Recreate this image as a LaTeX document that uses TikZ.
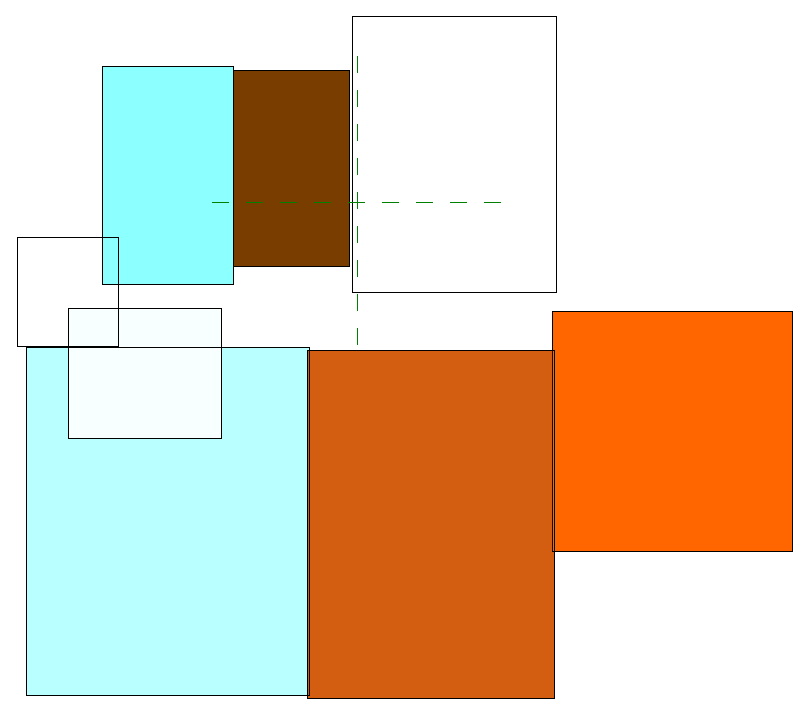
\documentclass[tikz,border=0pt]{standalone}
\usepackage{tikz}
\usetikzlibrary{arrows,shapes}
\definecolor{tilecyan}{RGB}{140,255,255}
\definecolor{tilebrown}{RGB}{122,61,0}
\definecolor{tilepale}{RGB}{186,255,255}
\definecolor{tileice}{RGB}{248,255,255}
\definecolor{tilerust}{RGB}{211,94,17}
\definecolor{tileorange}{RGB}{255,102,0}
\tikzstyle{tile}=[rectangle,draw=none,inner sep=0pt,outer sep=0pt]
\tikzstyle{outline} = [draw=black,line width=1pt]
\tikzstyle{guide} = [draw=green!50!black,line width=1pt,dash pattern=on 17pt off 17pt]

\begin{document}
\begin{tikzpicture}[x=1pt,y=-1pt]
    \useasboundingbox (0,0) rectangle (809,707);
    % First we fill the tiles, back to front
    \foreach \pos/\w/\h/\col/\name in {{(167.5,175)/131/218/tilecyan/cyan}, {(291,168)/116/196/tilebrown/brown},
        {(454,154)/204/276/none/sheet}, {(67.5,291.5)/101/109/none/small},
        {(167.5,521)/283/348/tilepale/pale}, {(144.5,373)/153/130/tileice/ice},
        {(430.5,524)/247/348/tilerust/rust}, {(672,431)/240/240/tileorange/orange}}
        \node[tile,fill=\col,minimum width=\w,minimum height=\h] (\name) at \pos {};
    
    % Then the outlines on top
    \foreach \name in {cyan, brown, sheet, small, pale, ice, rust, orange}
        \path[outline] (\name.north west) rectangle (\name.south east);
    
    % Dashed guides
    \coordinate (h1) at (212,202);
    \coordinate (h2) at (503,202);
    \coordinate (v1) at (357,56);
    \coordinate (v2) at (357,347);
    \foreach \source/ \dest in {h1/h2, v1/v2}
        \path[guide] (\source) -- (\dest) ;
        
\end{tikzpicture}
\end{document}
